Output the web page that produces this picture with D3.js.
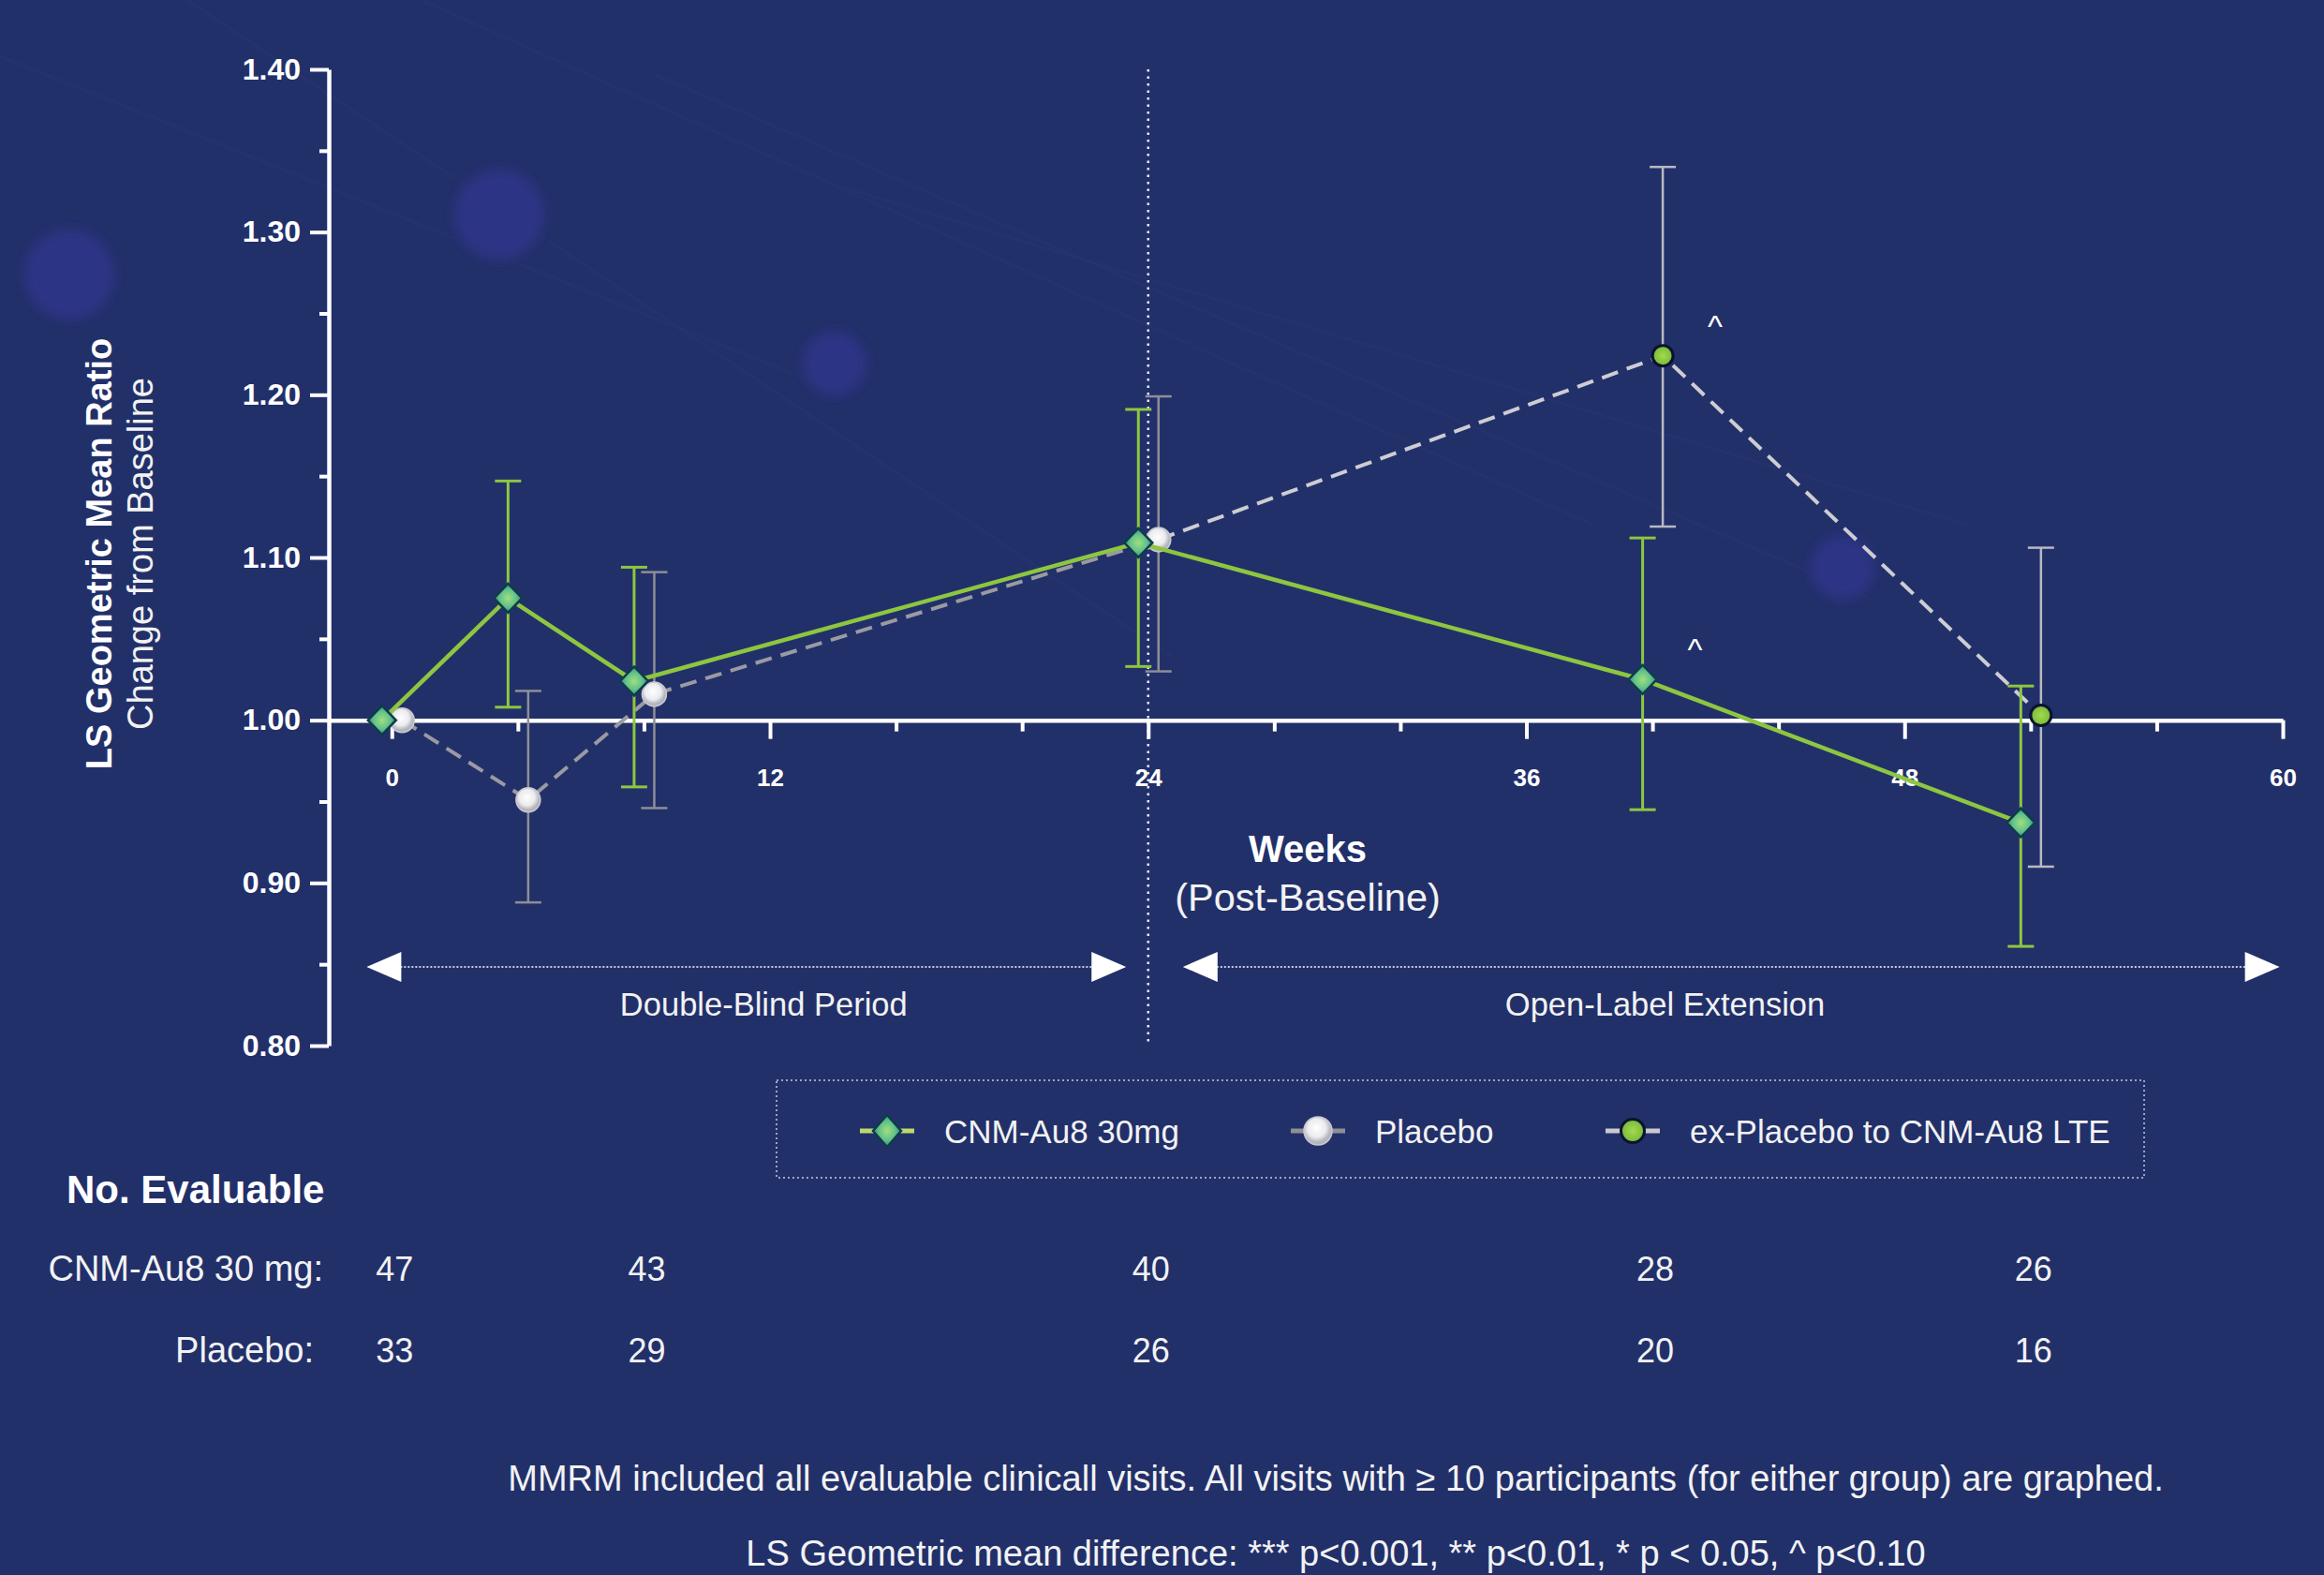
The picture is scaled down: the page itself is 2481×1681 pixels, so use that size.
<!DOCTYPE html>
<html><head><meta charset="utf-8">
<script src="https://cdn.jsdelivr.net/npm/d3@7"></script>
<style>
html,body{margin:0;padding:0;background:#22306a;}
svg{display:block;}
text{font-family:"Liberation Sans",Arial,Helvetica,sans-serif;}
</style></head><body>
<script>
// ---------- data ----------
const weeks = [0, 4, 8, 24, 40, 52];
const cnmMean  = [1.000, 1.075, 1.024, 1.109, 1.025, 0.937];
const cnmLower = [null, 1.008, 0.959, 1.033, 0.945, 0.861];
const cnmUpper = [null, 1.147, 1.094, 1.191, 1.112, 1.021];

const placeboWeeks = [0, 4, 8, 24];
const placeboMean  = [1.000, 0.951, 1.016, 1.111];
const placeboLower = [null, 0.888, 0.946, 1.030];
const placeboUpper = [null, 1.018, 1.091, 1.199];

const exPlaceboWeeks = [40, 52];
const exPlaceboMean  = [1.224, 1.003];
const exPlaceboLower = [1.119, 0.910];
const exPlaceboUpper = [1.340, 1.106];

const xTicksMajor = [0, 12, 24, 36, 48, 60];
const xTicksMinor = [4, 8, 16, 20, 28, 32, 40, 44, 52, 56];
const yTicksMajor = [0.80, 0.90, 1.00, 1.10, 1.20, 1.30, 1.40];
const yTicksMinor = [0.85, 0.95, 1.05, 1.15, 1.25, 1.35];

const tableWeeks = [0, 8, 24, 40, 52];
const nCnm     = [47, 43, 40, 28, 26];
const nPlacebo = [33, 29, 26, 20, 16];
const tableRowLabels = ["CNM-Au8 30 mg:", "Placebo:"];

const legendLabels = ["CNM-Au8 30mg", "Placebo", "ex-Placebo to CNM-Au8 LTE"];
const periods = [
  {label: "Double-Blind Period",  start: -0.8, end: 23.3, labelAt: 11.8},
  {label: "Open-Label Extension", start: 25.1, end: 59.9, labelAt: 40.4}
];
const annotations = [
  {series: "exPlacebo", week: 40, text: "^"},
  {series: "cnm", week: 40, text: "^"}
];
const yTitle = "LS Geometric Mean Ratio";
const ySubtitle = "Change from Baseline";
const xTitle = "Weeks";
const xSubtitle = "(Post-Baseline)";
const footnotes = [
  "MMRM included all evaluable clinicall visits. All visits with \u2265 10 participants (for either group) are graphed.",
  "LS Geometric mean difference: *** p<0.001, ** p<0.01, * p < 0.05, ^ p<0.10"
];

// ---------- build ----------
const W = 2481, H = 1681;
const svg = d3.select("body").append("svg").attr("width", W).attr("height", H);
const defs = svg.append("defs");

const blur = defs.append("filter").attr("id", "blur").attr("x", "-50%").attr("y", "-50%").attr("width", "200%").attr("height", "200%");
blur.append("feGaussianBlur").attr("stdDeviation", 6);

const gd = defs.append("radialGradient").attr("id", "gDiamond");
gd.append("stop").attr("offset", "0%").attr("stop-color", "#9fe07e");
gd.append("stop").attr("offset", "60%").attr("stop-color", "#62c08a");
gd.append("stop").attr("offset", "100%").attr("stop-color", "#2a8f88");
const gp = defs.append("radialGradient").attr("id", "gPlacebo").attr("cx", "45%").attr("cy", "40%");
gp.append("stop").attr("offset", "0%").attr("stop-color", "#ffffff");
gp.append("stop").attr("offset", "65%").attr("stop-color", "#ebebf0");
gp.append("stop").attr("offset", "100%").attr("stop-color", "#b4b4bc");
const ge = defs.append("radialGradient").attr("id", "gEx");
ge.append("stop").attr("offset", "0%").attr("stop-color", "#a3da4c");
ge.append("stop").attr("offset", "100%").attr("stop-color", "#78b83a");

svg.append("rect").attr("width", W).attr("height", H).attr("fill", "#22306a");

// decorative background
const deco = svg.append("g");
const decoLines = [[0,60,900,420],[200,0,1250,700],[450,0,1700,560],[700,80,2000,640],[900,200,2100,560]];
deco.selectAll("line").data(decoLines).join("line")
  .attr("x1", d => d[0]).attr("y1", d => d[1]).attr("x2", d => d[2]).attr("y2", d => d[3])
  .attr("stroke", "#3a4690").attr("stroke-width", 2).attr("opacity", 0.12);
const decoDots = [[74,293,48],[533,229,48],[891,388,34],[1967,606,34]];
deco.selectAll("circle").data(decoDots).join("circle")
  .attr("cx", d => d[0]).attr("cy", d => d[1]).attr("r", d => d[2])
  .attr("fill", "#2f3588").attr("opacity", 0.9).attr("filter", "url(#blur)");

const x = d3.scaleLinear().domain([-2, 60]).range([351, 2437]);
const y = d3.scaleLinear().domain([0.8, 1.4]).range([1116, 74]);
const fontStack = '"Liberation Sans", Arial, Helvetica, sans-serif';

// vertical dotted line at week 24
svg.append("line").attr("x1", x(24)).attr("x2", x(24)).attr("y1", y(1.4)).attr("y2", y(0.8))
  .attr("stroke", "#e8eaf4").attr("stroke-width", 2.5).attr("stroke-dasharray", "2.5,5");

// axes
function styleAxis(g) {
  g.select(".domain").attr("stroke", "#fff").attr("stroke-width", 4.5);
  g.selectAll(".tick line").attr("stroke", "#fff").attr("stroke-width", 4);
  g.selectAll(".tick text").attr("fill", "#fff").attr("font-family", fontStack).attr("font-weight", "bold");
}
const yAx = svg.append("g").attr("transform", `translate(${x(-2)},0)`)
  .call(d3.axisLeft(y).tickValues(yTicksMajor).tickSize(20).tickSizeOuter(0).tickPadding(10).tickFormat(d3.format(".2f")));
styleAxis(yAx); yAx.selectAll(".tick text").attr("font-size", 32);
const yMin = svg.append("g").attr("transform", `translate(${x(-2)},0)`)
  .call(d3.axisLeft(y).tickValues(yTicksMinor).tickSize(10).tickSizeOuter(0).tickFormat(""));
styleAxis(yMin); yMin.select(".domain").remove();

const xAx = svg.append("g").attr("transform", `translate(0,${y(1.0)})`)
  .call(d3.axisBottom(x).tickValues(xTicksMajor).tickSize(20).tickSizeOuter(0).tickPadding(32).tickFormat(d3.format("d")));
styleAxis(xAx); xAx.selectAll(".tick text").attr("font-size", 26);
const xMin = svg.append("g").attr("transform", `translate(0,${y(1.0)})`)
  .call(d3.axisBottom(x).tickValues(xTicksMinor).tickSize(12).tickSizeOuter(0).tickFormat(""));
styleAxis(xMin); xMin.select(".domain").remove();

// axis titles
const yt = svg.append("g").attr("transform", `translate(119,${y(1.1) - 4}) rotate(-90)`);
yt.append("text").attr("text-anchor", "middle").attr("font-size", 38).attr("font-weight", "bold").attr("fill", "#fff").text(yTitle);
const yt2 = svg.append("g").attr("transform", `translate(163,${y(1.1) - 4}) rotate(-90)`);
yt2.append("text").attr("text-anchor", "middle").attr("font-size", 38).attr("fill", "#f2f2f2").text(ySubtitle);
svg.append("text").attr("x", 1396).attr("y", 920).attr("text-anchor", "middle").attr("font-size", 40).attr("font-weight", "bold").attr("fill", "#fff").text(xTitle);
svg.append("text").attr("x", 1396).attr("y", 972).attr("text-anchor", "middle").attr("font-size", 41.5).attr("fill", "#f2f2f2").text(xSubtitle);

// period arrows
const arrowY = y(0.8484), labelY = y(0.8484) + 52;
periods.forEach(p => {
  const x0 = x(p.start), x1 = x(p.end);
  svg.append("line").attr("x1", x0 + 36).attr("x2", x1 - 36).attr("y1", arrowY).attr("y2", arrowY)
    .attr("stroke", "#c9cbd6").attr("stroke-width", 2).attr("stroke-dasharray", "2,2");
  svg.append("path").attr("d", `M${x0},${arrowY} L${x0 + 37},${arrowY - 16} L${x0 + 37},${arrowY + 16} Z`).attr("fill", "#fff");
  svg.append("path").attr("d", `M${x1},${arrowY} L${x1 - 37},${arrowY - 16} L${x1 - 37},${arrowY + 16} Z`).attr("fill", "#fff");
  svg.append("text").attr("x", x(p.labelAt)).attr("y", labelY).attr("text-anchor", "middle")
    .attr("font-size", 34.5).attr("fill", "#f2f2f2").text(p.label);
});

// series data
const cnm = weeks.map((w, i) => ({week: w, mean: cnmMean[i], lo: cnmLower[i], hi: cnmUpper[i]}));
const pbo = placeboWeeks.map((w, i) => ({week: w, mean: placeboMean[i], lo: placeboLower[i], hi: placeboUpper[i]}));
const exp = exPlaceboWeeks.map((w, i) => ({week: w, mean: exPlaceboMean[i], lo: exPlaceboLower[i], hi: exPlaceboUpper[i]}));
const DX_CNM = -10.5, DX_PBO = 11;

const lineGen = dx => d3.line().x(d => x(d.week) + dx).y(d => y(d.mean));

function errBars(data, dx, color, width) {
  const g = svg.append("g");
  data.filter(d => d.lo != null).forEach(d => {
    const cx = x(d.week) + dx;
    g.append("line").attr("x1", cx).attr("x2", cx).attr("y1", y(d.lo)).attr("y2", y(d.hi)).attr("stroke", color).attr("stroke-width", width);
    [d.lo, d.hi].forEach(v => g.append("line").attr("x1", cx - 14).attr("x2", cx + 14).attr("y1", y(v)).attr("y2", y(v)).attr("stroke", color).attr("stroke-width", width));
  });
}

// placebo (double blind) line
svg.append("path").datum(pbo).attr("d", lineGen(DX_PBO)).attr("fill", "none")
  .attr("stroke", "#9a9aa2").attr("stroke-width", 4).attr("stroke-dasharray", "18,10");
// ex-placebo line (starts from placebo week 24)
svg.append("path").datum([pbo[pbo.length - 1]].concat(exp)).attr("d", lineGen(DX_PBO)).attr("fill", "none")
  .attr("stroke", "#cdcdd2").attr("stroke-width", 4).attr("stroke-dasharray", "18,10");

errBars(pbo, DX_PBO, "#8e8e96", 2.5);
errBars(exp, DX_PBO, "#b9b9c0", 2.5);

const diamondPath = (w, h) => `M0,${-h} L${w},0 L0,${h} L${-w},0 Z`;

svg.append("g").selectAll("circle").data(pbo).join("circle")
  .attr("cx", d => x(d.week) + DX_PBO).attr("cy", d => y(d.mean)).attr("r", 13)
  .attr("fill", "url(#gPlacebo)").attr("stroke", "#c9c9d0").attr("stroke-width", 1.5);
svg.append("g").selectAll("circle").data(exp).join("circle")
  .attr("cx", d => x(d.week) + DX_PBO).attr("cy", d => y(d.mean)).attr("r", 11)
  .attr("fill", "url(#gEx)").attr("stroke", "#0b1230").attr("stroke-width", 3);

// CNM
svg.append("path").datum(cnm).attr("d", lineGen(DX_CNM)).attr("fill", "none")
  .attr("stroke", "#8dc63f").attr("stroke-width", 4.5);
errBars(cnm, DX_CNM, "#8dc63f", 3);
svg.append("g").selectAll("path").data(cnm).join("path")
  .attr("transform", d => `translate(${x(d.week) + DX_CNM},${y(d.mean)})`)
  .attr("d", diamondPath(15, 15.5))
  .attr("fill", "url(#gDiamond)").attr("stroke", "#0f3c4a").attr("stroke-width", 2.5);

// annotations
const seriesMap = {cnm: {data: cnm, dx: DX_CNM}, exPlacebo: {data: exp, dx: DX_PBO}};
annotations.forEach(a => {
  const s = seriesMap[a.series];
  const d = s.data.find(p => p.week === a.week);
  svg.append("text").attr("x", x(d.week) + s.dx + 56).attr("y", y(d.mean) - 20)
    .attr("text-anchor", "middle").attr("font-size", 34).attr("fill", "#fff").text(a.text);
});

// legend
const lg = svg.append("g");
lg.append("rect").attr("x", 829).attr("y", 1153).attr("width", 1460).attr("height", 104)
  .attr("fill", "none").attr("stroke", "#9ea3bd").attr("stroke-width", 2).attr("stroke-dasharray", "2,3");
const legendItems = [
  {cx: 947, tx: 1008, line: "#bcd86c", marker: "diamond"},
  {cx: 1407, tx: 1468, line: "#8f8f96", marker: "placebo"},
  {cx: 1743, tx: 1804, line: "#c9c9cf", marker: "ex"}
];
const legY = 1207;
legendItems.forEach((it, i) => {
  lg.append("line").attr("x1", it.cx - 29).attr("x2", it.cx + 29).attr("y1", legY).attr("y2", legY)
    .attr("stroke", it.line).attr("stroke-width", 5);
  if (it.marker === "diamond") {
    lg.append("path").attr("transform", `translate(${it.cx},${legY})`).attr("d", diamondPath(15, 17))
      .attr("fill", "url(#gDiamond)").attr("stroke", "#0f3c4a").attr("stroke-width", 2.5);
  } else if (it.marker === "placebo") {
    lg.append("circle").attr("cx", it.cx).attr("cy", legY).attr("r", 15)
      .attr("fill", "url(#gPlacebo)").attr("stroke", "#c9c9d0").attr("stroke-width", 1.5);
  } else {
    lg.append("circle").attr("cx", it.cx).attr("cy", legY).attr("r", 12.5)
      .attr("fill", "url(#gEx)").attr("stroke", "#0b1230").attr("stroke-width", 3);
  }
  lg.append("text").attr("x", it.tx).attr("y", legY + 13).attr("font-size", 35).attr("fill", "#f2f2f2").text(legendLabels[i]);
});

// table
svg.append("text").attr("x", 71).attr("y", 1284).attr("font-size", 42).attr("font-weight", "bold").attr("fill", "#fff").text("No. Evaluable");
const rowY = [1367, 1454];
const rowRight = [345, 335];
[nCnm, nPlacebo].forEach((vals, r) => {
  svg.append("text").attr("x", rowRight[r]).attr("y", rowY[r]).attr("text-anchor", "end")
    .attr("font-size", 38).attr("fill", "#f2f2f2").text(tableRowLabels[r]);
  svg.append("g").selectAll("text").data(vals).join("text")
    .attr("x", (d, i) => x(tableWeeks[i]) + 3).attr("y", rowY[r]).attr("text-anchor", "middle")
    .attr("font-size", 36).attr("fill", "#f2f2f2").text(d => d);
});

// footnotes
svg.append("text").attr("x", 1426).attr("y", 1591).attr("text-anchor", "middle").attr("font-size", 38).attr("fill", "#f2f2f2").text(footnotes[0]);
svg.append("text").attr("x", 1426).attr("y", 1671).attr("text-anchor", "middle").attr("font-size", 38).attr("fill", "#f2f2f2").text(footnotes[1]);
</script>
</body></html>
